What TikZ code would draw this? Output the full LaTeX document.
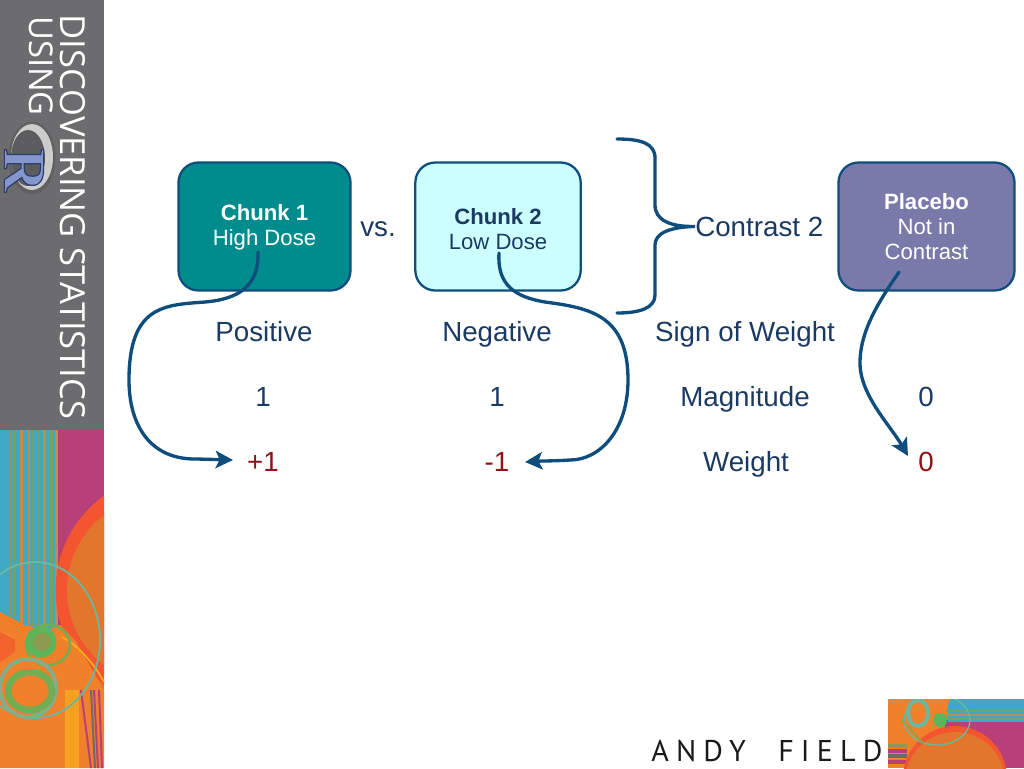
\documentclass[tikz,border=0pt]{standalone}
\usepackage{fontspec}
\setmainfont{Liberation Sans}
\newfontfamily\sidefont{Open Sans}
\newfontfamily\logofont{Liberation Serif}
\newfontfamily\namefont[LetterSpace=24]{PT Sans}
\usetikzlibrary{arrows.meta}
\definecolor{linkblue}{HTML}{0E4D7C}
\definecolor{inktext}{HTML}{1B3A63}
\definecolor{weightred}{HTML}{8E1216}
\definecolor{tealbox}{HTML}{008C8C}
\definecolor{palebox}{HTML}{CCFFFF}
\definecolor{purplebox}{HTML}{7A7AAA}
\definecolor{sidegrey}{HTML}{6C6C6E}
\definecolor{artblue}{HTML}{3FA9C4}
\definecolor{artmag}{HTML}{B8407A}
\definecolor{artorange}{HTML}{F0802A}
\definecolor{artdeep}{HTML}{E2762C}
\definecolor{artred}{HTML}{F2552F}
\definecolor{artgreen}{HTML}{5DB55A}
\definecolor{artmint}{HTML}{6CB7A0}
\definecolor{artolive}{HTML}{8D9A4F}
\definecolor{logoblue}{HTML}{8496CC}
\tikzset{
 chunkbox/.style={draw=linkblue,line width=1.7pt,rounded corners=15pt,minimum height=96pt,align=center,inner sep=0pt,font=\fontsize{16.6}{18.8}\selectfont},
 cell/.style={inner sep=0pt,anchor=base,text=inktext,font=\fontsize{20.8}{24}\selectfont},
 wcell/.style={cell,text=weightred},
 link/.style={draw=linkblue,line width=2.5pt,line cap=round},
 linkarrow/.style={link,-{Stealth[length=13pt,width=13pt,inset=3pt]}},
 sidetext/.style={inner sep=0pt,rotate=-90,text=white,font=\sidefont\fontsize{25.9}{30}\selectfont},
}
\begin{document}
\begin{tikzpicture}[x=0.75pt,y=-0.75pt]
\useasboundingbox (0,0) rectangle (1024,768);
\fill[white] (0,0) rectangle (1024,768);
% side bar
\fill[sidegrey] (0,0) rectangle (104,430);
\node[sidetext] (title) at (72.5,217) {DISCOVERING STATISTICS};
\node[sidetext,font=\sidefont\fontsize{24.6}{30}\selectfont] (using) at (41,66) {USING};
% R logo
\fill[gray!75!black] (32,158) ellipse [x radius=23.5,y radius=36.5];
\fill[gray!40] (32,157) ellipse [x radius=21,y radius=33];
\fill[sidegrey!85!black] (28,158) ellipse [x radius=17,y radius=28];
\node[inner sep=0pt,rotate=-90,text=logoblue] (rlogo) at (24,170)
 {\logofont\bfseries\fontsize{45}{45}\selectfont\special{pdf:code q 2 Tr 0.9 w 0.17 0.24 0.42 RG}R\special{pdf:code Q}};
% side artwork
\begin{scope}
\clip (0,430) rectangle (104,768);
\fill[artmag] (0,430) rectangle (104,630);
\fill[artdeep] (58,625) rectangle (104,700);
\fill[artblue] (0,430) rectangle (58,632);
\foreach \xa/\wa/\ca in {9/2/artolive,14/1.5/artolive,20/3/artorange,28/2/artorange,32/1.5/artolive,37/3/artolive,43/3/artorange,50/3/artolive,55/3/artorange}
 \fill[\ca!80!artblue] (\xa,430) rectangle ++(\wa,195);
\fill[artred] (171.6,590) circle (116);
\fill[artdeep] (161.5,590) circle (94.5);
\fill[artorange] (0,612) -- (25,625) -- (48,630) -- (60,625) -- (75,640) -- (104,690) -- (104,768) -- (0,768) -- cycle;
\fill[artred!70!artorange] (0,632) -- (15,640) -- (15,652) -- (0,662) -- cycle;
\draw[artorange!60!yellow,line width=1.2pt] (62,637) .. controls (78,645) and (95,665) .. (104,682);
\fill[artorange!75!yellow] (65,690) rectangle (79,768);
\foreach \xb/\xc/\cb in {80/90/artmag,90/94/sidegrey,93/97/artmag,98/101/artmag}
 \fill[\cb] (\xb,690) -- (\xb+2,690) -- (\xc+2,768) -- (\xc,768) -- cycle;
\draw[artmint,line width=1.4pt] (35,640) ellipse [x radius=65,y radius=78];
\draw[artgreen!80!artorange,line width=2pt] (48,645) ellipse [x radius=22,y radius=20];
\fill[artgreen] (41,642) circle (15.5);
\fill[artolive] (42,642) circle (9);
\draw[artmint!80!artorange,line width=3pt] (28,688) ellipse [x radius=28,y radius=29];
\draw[artgreen!85!artorange,line width=5pt] (30,691) ellipse [x radius=22,y radius=19];
\end{scope}
% lower right artwork
\begin{scope}
\clip (888,699) rectangle (1024,768);
\fill[artorange] (888,699) rectangle (1024,768);
\fill[artmag] (945,720) rectangle (1024,768);
\fill[artblue] (948,699) rectangle (1024,722);
\foreach \ya/\ca in {710/artolive,714/artorange,718/artolive}
 \fill[\ca!70!artblue] (945,\ya) rectangle (1024,\ya+1.8);
\foreach \yb/\cb in {744/artolive,749/artmag,754/sidegrey,760/artmag}
 \fill[\cb] (888,\yb) rectangle (907,\yb+4);
\fill[artred] (955,778) circle (52);
\fill[artdeep] (955,782) circle (50);
\fill[artorange] (888,699) -- (950,699) -- (942,722) -- (925,732) -- (888,743) -- cycle;
\draw[artmint,line width=1pt] (937,720) ellipse [x radius=33,y radius=25];
\draw[artmint,line width=3pt] (918,713) ellipse [x radius=10,y radius=13];
\draw[artgreen!70!artorange,line width=1pt] (901,719) -- (925,745);
\fill[artgreen] (940,720) circle (7);
\end{scope}
\node[inner sep=0pt,anchor=base west,text=black!90] (author) at (651,761) {\namefont\fontsize{22.5}{24}\selectfont ANDY\hspace{13pt} FIELD};
% boxes
\node[chunkbox,fill=tealbox,text=white,minimum width=129pt] (chunkone) at (264.5,226.5) {\rule{0pt}{13.5pt}\textbf{Chunk 1}\\High Dose};
\node[chunkbox,fill=palebox,text=inktext,minimum width=124pt] (chunktwo) at (498,226.5) {\rule{0pt}{16.5pt}\textbf{Chunk 2}\\Low Dose};
\node[chunkbox,fill=purplebox,text=white,minimum width=132pt] (placebo) at (926.5,226.5) {\textbf{Placebo}\\Not in\\Contrast};
\node[cell] (vs) at (378,236.5) {vs.};
\node[cell,anchor=base west] (contrast) at (695,236) {Contrast 2};
% table
\node[cell] (pos) at (264,341.5) {Positive};
\node[cell] (neg) at (497,341.5) {Negative};
\node[cell] (sign) at (745,341.5) {Sign of Weight};
\node[cell] (magone) at (263,406.5) {1};
\node[cell] (magtwo) at (497,406.5) {1};
\node[cell] (maglabel) at (745,406.5) {Magnitude};
\node[cell] (magzero) at (926,406.5) {0};
\node[wcell] (wone) at (263,471) {+1};
\node[wcell] (wtwo) at (497,471) {-1};
\node[cell] (wlabel) at (746,471) {Weight};
\node[wcell] (wzero) at (926,471) {0};
% connector anchors
\coordinate (startone) at (258,252);
\coordinate (starttwo) at (499,253);
\coordinate (startthree) at (899,272);
\coordinate (braceA) at (617,139);
\coordinate (braceB) at (617,313);
\coordinate (endone) at (233,460);
\coordinate (endtwo) at (525,462);
\coordinate (endthree) at (908,456);
\draw[linkarrow] (startone) .. controls (259,285) and (240,299) .. (205,302)
 .. controls (165,305) and (129,305) .. (129,380)
 .. controls (129,425) and (150,460) .. (197,459)
 -- (endone);
\draw[linkarrow] (starttwo) .. controls (497,285) and (515,297) .. (545,302)
 .. controls (590,308) and (628,315) .. (628,380)
 .. controls (628,430) and (600,460) .. (570,460)
 .. controls (555,461) and (540,461) .. (endtwo);
\draw[linkarrow] (startthree) .. controls (880,300) and (860,330) .. (860,363)
 .. controls (860,395) and (890,425) .. (endthree);
\draw[link] (braceA) .. controls (640,139) and (655,143) .. (655,158)
 -- (655,205) .. controls (655,220) and (670,227) .. (contrast.west)
 .. controls (670,227) and (655,233) .. (655,245)
 -- (655,295) .. controls (655,308) and (640,313) .. (braceB);
\end{tikzpicture}
\end{document}
